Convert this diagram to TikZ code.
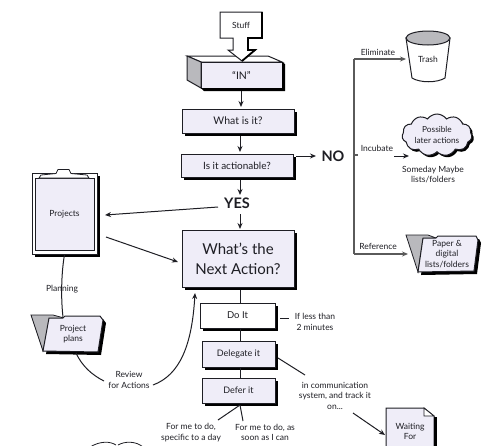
\documentclass[tikz,border=0pt]{standalone}
\usepackage{fontspec}
\setmainfont{Lato}
\usepackage{tikz}
\usetikzlibrary{arrows.meta,shadows,shapes.symbols}
\usepackage{xcolor}
\definecolor{paper}{HTML}{EFEDF8}
\definecolor{ink}{HTML}{1E1E24}
\definecolor{tabgray}{HTML}{B9B9BD}
\definecolor{busgray}{HTML}{5A5A5A}

\begin{document}
\begin{tikzpicture}[
    x=1pt, y=-1pt,
    shad/.style={drop shadow={shadow xshift=3pt, shadow yshift=-3pt, fill=black, opacity=1}},
    box/.style={draw=ink, line width=1pt, fill=paper, shad, align=center, inner sep=0pt, font=\fontsize{10.5}{12}\selectfont, text=ink},
    lbl/.style={align=center, inner sep=1pt, font=\fontsize{8.5}{10.5}\selectfont, text=ink},
    hot/.style={inner sep=1pt, font=\fontsize{14.5}{16}\bfseries\selectfont, text=ink},
    flow/.style={-{Stealth[length=6pt,width=5pt]}, line width=1pt, color=ink},
    wire/.style={line width=1pt, color=ink},
    bus/.style={line width=1.2pt, color=busgray},
]
\useasboundingbox (0,0) rectangle (500,445);
\clip (0,0) rectangle (500,445);

% in tray
\draw[draw=ink, fill=white, line width=1pt] (187,56) -- (268,56) -- (282,62) -- (201,62) -- cycle;
\draw[draw=ink, fill=tabgray, line width=1pt] (187,56) -- (201,62) -- (201,88) -- (187,80) -- cycle;
\node[box, minimum width=81pt, minimum height=26pt] (in) at (241.5,75) {“IN”};
\fill[black] (282,62) -- (285,64) -- (285,91) -- (204,91) -- (201,88) -- (282,88) -- cycle;

% block arrow into the tray
\draw[draw=ink, fill=white, line width=1pt] (220,12) -- (262,12) -- (262,38) -- (248,38) -- (248,50) -- (255,50) -- (242,61) -- (228,50) -- (233,50) -- (233,38) -- (220,38) -- cycle;
\draw[black, line width=1.8pt] (262,12) -- (262,38) -- (248,38) -- (248,50) -- (255,50) -- (242,61);
\node[lbl] (stuff) at (241,25) {Stuff};

\node[box, minimum width=112pt, minimum height=24pt] (what) at (238,121) {What is it?};
\node[box, minimum width=112pt, minimum height=23pt, font=\fontsize{10}{11}\selectfont] (actionable) at (237,165.5) {Is it actionable?};
\node[hot] (no) at (333,156) {NO};
\node[hot] (yes) at (237,203) {YES};
\node[box, minimum width=112pt, minimum height=57pt, font=\fontsize{15}{20}\selectfont] (next) at (238,258.5) {What’s the\\Next Action?};
\node[box, fill=white, minimum width=75pt, minimum height=25pt, font=\fontsize{9.5}{11}\selectfont] (doit) at (237.5,315.5) {Do It};
\node[box, minimum width=73pt, minimum height=26pt, font=\fontsize{9}{11}\selectfont] (delegate) at (238.5,354) {Delegate it};
\node[box, minimum width=73pt, minimum height=25pt, font=\fontsize{9}{11}\selectfont] (defer) at (238.5,390.5) {Defer it};

% clipboard
\node[box, fill=white, minimum width=65pt, minimum height=81pt] (clipboard) at (64.5,213.5) {};
\node[draw=ink, line width=.8pt, fill=paper, minimum width=59pt, minimum height=72pt, inner sep=0pt, font=\fontsize{8.5}{10}\selectfont, text=ink] (projects) at (64.5,214) {Projects};
\draw[draw=ink, fill=white, line width=.8pt] (39,178) -- (41,175) -- (56,173.5) -- (58,169.5) -- (69,169.5) -- (71,173.5) -- (87,175) -- (89,178) -- cycle;

% project plans folder
\draw[draw=ink, fill=tabgray, line width=.8pt] (31,315) -- (53,315) -- (64,318) -- (50,320) -- (43,351) -- cycle;
\draw[draw=ink, fill=paper, line width=1pt, shad] (49,318) -- (63,318) -- (65,316) -- (100,316) -- (103,320) -- (98,352) -- (43,351) -- cycle;
\node[lbl, minimum width=50pt, minimum height=36pt] (plans) at (73,334) {Project\\plans};

% reference folder
\draw[draw=ink, fill=tabgray, line width=.8pt] (406,235) -- (428,235) -- (436,238) -- (423,239) -- (418,272) -- cycle;
\draw[draw=ink, fill=paper, line width=1pt, shad] (423,238) -- (436,238) -- (438,236) -- (476,236) -- (478,240) -- (474,271) -- (418,272) -- cycle;
\node[lbl, minimum width=52pt, minimum height=36pt] (paper) at (447,254) {Paper \&\\digital\\lists/folders};

% trash
\draw[draw=ink, fill=white, line width=1pt] (406,38) -- (412,78) .. controls (420,83) and (437,83) .. (445,78) -- (450,38) -- cycle;
\draw[draw=ink, fill=tabgray, line width=1pt] (428,38) ellipse [x radius=22, y radius=7];
\node[lbl] (trash) at (428,59) {Trash};

% cloud
\node[cloud, cloud puffs=11, cloud puff arc=110, aspect=1.9, draw=ink, line width=1pt, fill=paper, drop shadow={shadow xshift=2pt, shadow yshift=-2pt, fill=black, opacity=1}, minimum width=70pt, minimum height=42pt, inner sep=0pt, align=center, font=\fontsize{8.3}{10.5}\selectfont, text=ink] (cloud) at (437,135) {Possible\\later actions};
\node[lbl] (someday) at (433,174.5) {Someday Maybe\\lists/folders};

% waiting for
\draw[draw=ink, fill=paper, line width=1pt] (386,408) -- (424,408) -- (434,416) -- (434,450) -- (386,450) -- cycle;
\draw[draw=ink, fill=white, line width=.8pt] (424,408) -- (424,416) -- (434,416) -- cycle;
\draw[black, line width=2.5pt] (435.5,417) -- (435.5,450);
\node[lbl, minimum width=48pt, minimum height=42pt, anchor=north] (waiting) at (410,408) {\\Waiting\\For};

% tickler tops at the lower edge
\draw[draw=ink, line width=.8pt] (90,447) .. controls (100,441) and (110,441) .. (116,445);
\draw[draw=ink, line width=.8pt] (118,445) .. controls (125,441) and (136,441) .. (143,447);

\node[lbl] (less) at (315,322) {If less than\\2 minutes};
\node[lbl] (comm) at (335,395.5) {in communication\\system, and track it\\on...};
\node[lbl] (day) at (191,432.5) {For me to do,\\specific to a day};
\node[lbl] (soon) at (265,432.5) {For me to do, as\\soon as I can};
\node[lbl, fill=white] (planning) at (62,289) {Planning};
\node[lbl] (review) at (129,380) {Review\\for Actions};
\node[lbl] (eliminate) at (378,52) {Eliminate};
\node[lbl] (incubate) at (377,148) {Incubate};
\node[lbl] (reference) at (378,246) {Reference};

\coordinate (bustop) at (354,59);
\coordinate (busmid) at (358,155);
\coordinate (busbot) at (354,254);
\coordinate (incfrom) at (394,156);
\coordinate (incto) at (409,156);
\coordinate (lessfrom) at (280,318);
\coordinate (commfrom) at (278,358);
\coordinate (commto) at (305,375);
\coordinate (waitfrom) at (353,413);
\coordinate (dayto) at (218,420);
\coordinate (soonto) at (243,421);
\coordinate (deferout) at (240,405);
\coordinate (nexttip) at (195,293);
\coordinate (projout) at (106,237);
\coordinate (nextin) at (178,262);
\coordinate (projin) at (105,215);
\coordinate (yesout) at (218,207);

\draw[flow] (241,91) -- (241,107);
\draw[flow] (240,136) -- (240,152);
\draw[flow] (296,156) -- (316,156);
\draw[flow] (240,180) -- (240,195);
\draw[flow] (240,214) -- (240,229);
\draw[wire] (240,290) -- (240,303);
\draw[wire] (240,328) -- (240,341);
\draw[wire] (240,367) -- (240,378);
\draw[flow] (yesout) -- (projin);
\draw[flow] (projout) -- (nextin);
\draw[wire] (clipboard.south) .. controls (61,275) and (61,300) .. (63,317);
\draw[wire] (76,353) .. controls (82,366) and (92,375) .. (104,381);
\draw[flow] (153,385) .. controls (180,375) and (192,345) .. (nexttip);
\draw[wire] (lessfrom) -- (289,318);
\draw[wire] (commfrom) -- (commto);
\draw[flow] (waitfrom) -- (385,435);
\draw[wire] (deferout) -- (dayto);
\draw[wire] (deferout) -- (soonto);
\draw[bus] (bustop) -- (busbot);
\draw[bus] (354,155) -- (busmid);
\draw[flow, bus] (bustop) -- (406,59);
\draw[flow, bus] (busbot) -- (408,254);
\draw[flow] (incfrom) -- (incto);

\end{tikzpicture}
\end{document}
